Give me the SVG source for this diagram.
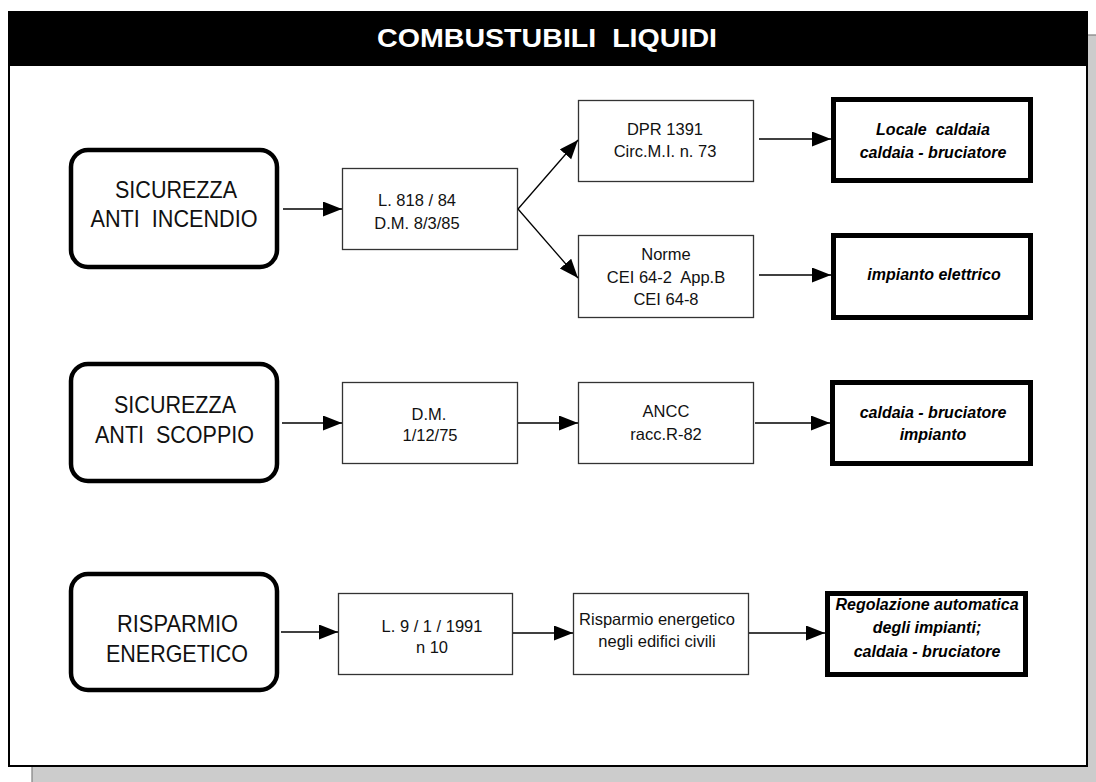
<svg xmlns="http://www.w3.org/2000/svg" width="1096" height="782" viewBox="0 0 1096 782">
<defs>
<marker id="arr" markerUnits="userSpaceOnUse" markerWidth="20" markerHeight="16" refX="19" refY="7.5" orient="auto">
<path d="M0,0 L19,7.5 L0,15 z" fill="#000"/>
</marker>
<style>
.big{fill:#fff;stroke:#000;stroke-width:4.5}
.box{fill:#fff;stroke:#333;stroke-width:1.3}
.thick{fill:#fff;stroke:#000;stroke-width:5}
.tb{font-family:"Liberation Sans",Arial,sans-serif;font-size:24px;fill:#111;text-anchor:middle;white-space:pre}
.ts{font-family:"Liberation Sans",Arial,sans-serif;font-size:16.5px;fill:#111;text-anchor:middle;white-space:pre}
.ti{font-family:"Liberation Sans",Arial,sans-serif;font-size:16px;font-weight:bold;font-style:italic;fill:#000;text-anchor:middle;white-space:pre}
.conn line{stroke:#000;stroke-width:1.3;marker-end:url(#arr)}
</style>
</defs>
<rect x="32" y="35" width="1080" height="760" fill="#cccccc" stroke="#808080" stroke-width="1.2"/>
<rect x="9" y="12" width="1078" height="754" fill="#fff" stroke="#000" stroke-width="2"/>
<g id="title">
<rect x="8" y="11" width="1080" height="55" fill="#000"/>
<text x="547" y="47" font-family="Liberation Sans, Arial, sans-serif" font-size="26" font-weight="bold" fill="#fff" text-anchor="middle" textLength="340" lengthAdjust="spacingAndGlyphs" style="white-space:pre">COMBUSTUBILI  LIQUIDI</text>
</g>
<g id="n-antincendio">
<rect class="big" x="71" y="150" width="206" height="117" rx="17"/>
<text class="tb" x="176" y="198" textLength="122" lengthAdjust="spacingAndGlyphs">SICUREZZA</text>
<text class="tb" x="174" y="227" textLength="167" lengthAdjust="spacingAndGlyphs">ANTI  INCENDIO</text>
</g>
<g id="n-l818">
<rect class="box" x="342.5" y="168.5" width="175" height="81"/>
<text class="ts" x="417" y="206">L. 818 / 84</text>
<text class="ts" x="417" y="229">D.M. 8/3/85</text>
</g>
<g id="n-dpr">
<rect class="box" x="578.5" y="100.5" width="175" height="81"/>
<text class="ts" x="665" y="135">DPR 1391</text>
<text class="ts" x="665" y="157">Circ.M.I. n. 73</text>
</g>
<g id="n-norme">
<rect class="box" x="578.5" y="235.5" width="175" height="82"/>
<text class="ts" x="666" y="260">Norme</text>
<text class="ts" x="666" y="283">CEI 64-2  App.B</text>
<text class="ts" x="666" y="305">CEI 64-8</text>
</g>
<g id="n-locale">
<rect class="thick" x="833.5" y="99.5" width="197" height="81"/>
<text class="ti" x="933" y="135">Locale  caldaia</text>
<text class="ti" x="933" y="158">caldaia - bruciatore</text>
</g>
<g id="n-elettrico">
<rect class="thick" x="833.5" y="235.5" width="197" height="82"/>
<text class="ti" x="934" y="280">impianto elettrico</text>
</g>
<g id="n-antiscoppio">
<rect class="big" x="71" y="364" width="206" height="117" rx="17"/>
<text class="tb" x="175" y="413" textLength="122" lengthAdjust="spacingAndGlyphs">SICUREZZA</text>
<text class="tb" x="174.5" y="443" textLength="159" lengthAdjust="spacingAndGlyphs">ANTI  SCOPPIO</text>
</g>
<g id="n-dm">
<rect class="box" x="342.5" y="382.5" width="175" height="81"/>
<text class="ts" x="429" y="420">D.M.</text>
<text class="ts" x="430" y="441">1/12/75</text>
</g>
<g id="n-ancc">
<rect class="box" x="578.5" y="382.5" width="175" height="81"/>
<text class="ts" x="666" y="417">ANCC</text>
<text class="ts" x="666" y="440">racc.R-82</text>
</g>
<g id="n-impianto">
<rect class="thick" x="832.5" y="382.5" width="198" height="81"/>
<text class="ti" x="933" y="418">caldaia - bruciatore</text>
<text class="ti" x="933" y="440">impianto</text>
</g>
<g id="n-risparmio">
<rect class="big" x="71" y="574" width="206" height="116" rx="17"/>
<text class="tb" x="177.5" y="632" textLength="121" lengthAdjust="spacingAndGlyphs">RISPARMIO</text>
<text class="tb" x="177" y="662" textLength="142" lengthAdjust="spacingAndGlyphs">ENERGETICO</text>
</g>
<g id="n-l9">
<rect class="box" x="338.5" y="593.5" width="174" height="81"/>
<text class="ts" x="432" y="632">L. 9 / 1 / 1991</text>
<text class="ts" x="432" y="653">n 10</text>
</g>
<g id="n-edifici">
<rect class="box" x="573.5" y="593.5" width="175" height="81"/>
<text class="ts" x="657" y="625">Risparmio energetico</text>
<text class="ts" x="657" y="647">negli edifici civili</text>
</g>
<g id="n-regolazione">
<rect class="thick" x="827.5" y="593.5" width="198" height="81"/>
<text class="ti" x="927" y="610">Regolazione automatica</text>
<text class="ti" x="927" y="633">degli impianti;</text>
<text class="ti" x="927" y="657">caldaia - bruciatore</text>
</g>
<g id="connectors" class="conn">
<line x1="283" y1="209" x2="342" y2="209"/>
<line x1="518" y1="209" x2="578" y2="140"/>
<line x1="518" y1="209" x2="578" y2="278"/>
<line x1="759" y1="139" x2="831" y2="139"/>
<line x1="759" y1="275" x2="831" y2="275"/>
<line x1="282" y1="423" x2="342" y2="423"/>
<line x1="518" y1="423" x2="578" y2="423"/>
<line x1="755" y1="423" x2="830" y2="423"/>
<line x1="281" y1="632" x2="338" y2="632"/>
<line x1="513" y1="633" x2="573" y2="633"/>
<line x1="749" y1="633" x2="825" y2="633"/>
</g>
</svg>
